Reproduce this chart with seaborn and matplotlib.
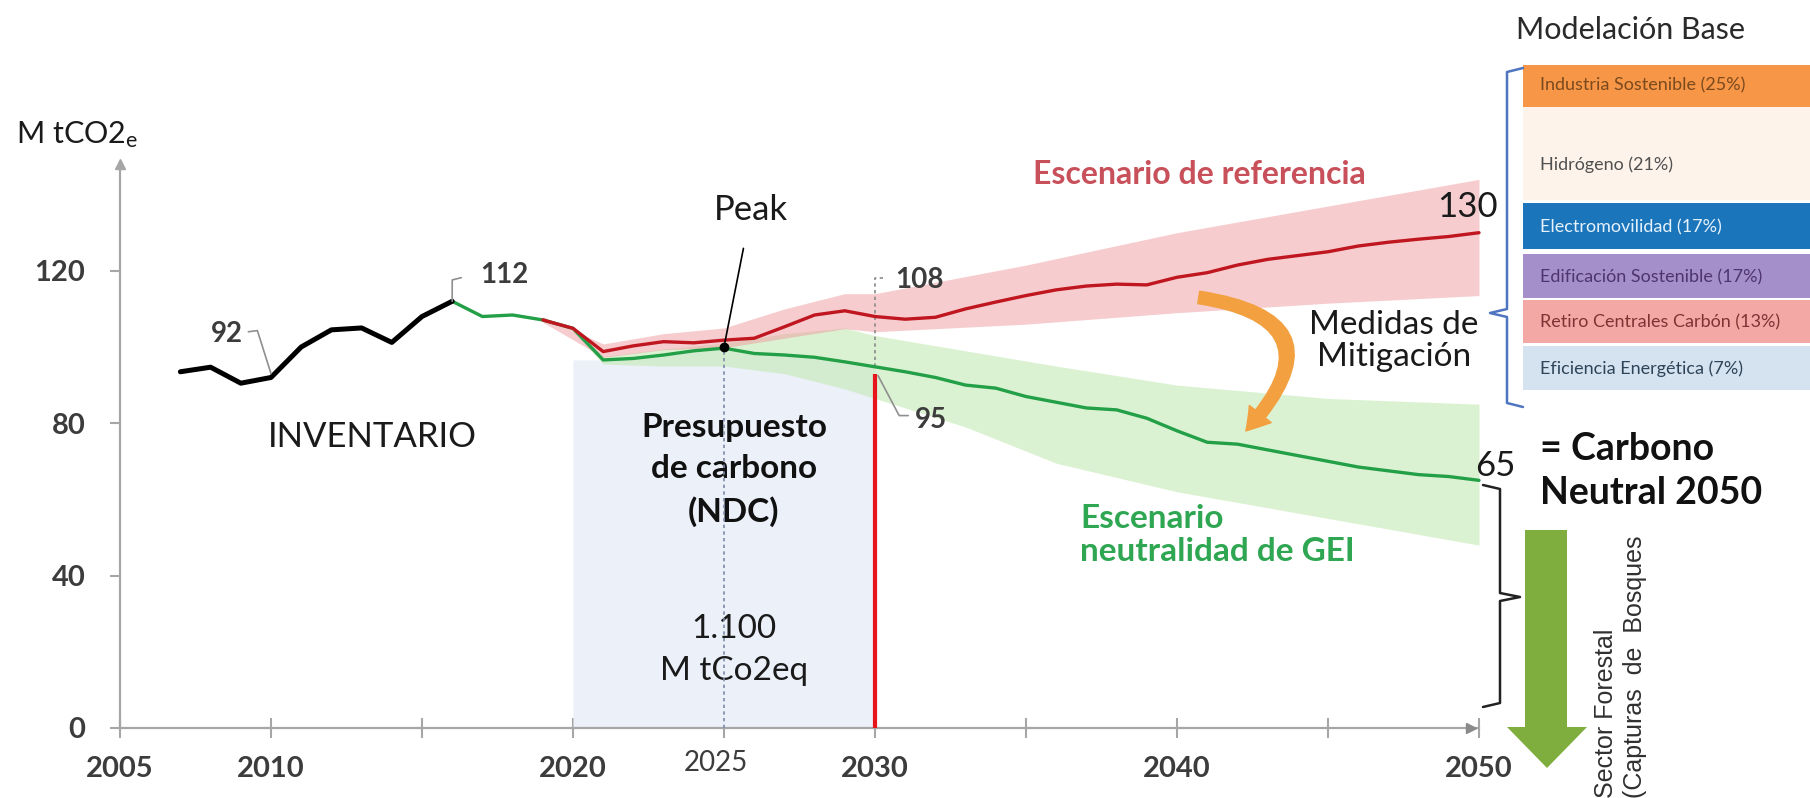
import numpy as np
import pandas as pd
import matplotlib
matplotlib.use("Agg")
import matplotlib.pyplot as plt
import seaborn as sns
from matplotlib.patches import Rectangle, Polygon, FancyArrowPatch

# ---------------- data ----------------
inv_years = [2007, 2008, 2009, 2010, 2011, 2012, 2013, 2014, 2015, 2016]
inv_values = [93.5, 94.7, 90.5, 92.0, 100.0, 104.5, 105.0, 101.2, 108.0, 112.0]

neu_years = list(range(2016, 2051))
neu_values = [112.0, 108.0, 108.4, 107.1, 104.9, 96.6, 97.0, 97.9, 99.0, 99.7,
              98.3, 97.9, 97.3, 96.1, 94.8, 93.5, 92.0, 90.0, 89.2, 87.0,
              85.5, 84.0, 83.5, 81.3, 78.0, 75.0, 74.5, 73.0, 71.5, 70.0,
              68.5, 67.5, 66.5, 66.0, 65.0]

ref_years = list(range(2019, 2051))
ref_values = [107.1, 104.9, 98.8, 100.3, 101.4, 101.1, 101.8, 102.3, 105.3, 108.4,
              109.5, 108.0, 107.3, 107.8, 110.0, 111.8, 113.5, 115.0, 116.0, 116.5,
              116.3, 118.3, 119.5, 121.5, 123.0, 124.0, 125.0, 126.5, 127.5, 128.3,
              129.0, 130.0]

ref_band_years = [2019, 2021, 2023, 2025, 2027, 2029, 2030, 2035, 2040, 2045, 2050]
ref_low = [106.5, 97.3, 99.3, 99.8, 102.3, 104.8, 104.0, 106.0, 109.0, 111.5, 113.5]
ref_high = [108.0, 100.8, 103.5, 105.0, 110.0, 114.0, 114.0, 121.5, 130.0, 137.0, 144.0]

neu_band_years = [2020, 2021, 2023, 2025, 2027, 2029, 2030, 2033, 2036, 2040, 2045, 2050]
neu_low = [104.0, 95.5, 95.0, 95.0, 93.0, 89.0, 86.5, 79.0, 69.5, 62.0, 55.0, 48.0]
neu_high = [105.0, 97.5, 99.5, 101.0, 103.5, 105.0, 103.0, 99.0, 95.0, 90.0, 86.5, 85.0]

peak_year, peak_value = 2025, 100.0
budget_start, budget_end = 2020, 2030

x_ticks = [2005, 2010, 2015, 2020, 2025, 2030, 2035, 2040, 2045, 2050]
x_tick_labels = ["2005", "2010", "", "2020", "", "2030", "", "2040", "", "2050"]
y_ticks = [0, 40, 80, 120]
y_tick_labels = ["0", "40", "80", "120"]

medidas = ["Industria Sostenible (25%)", "Hidrógeno (21%)", "Electromovilidad (17%)",
           "Edificación Sostenible (17%)", "Retiro Centrales Carbón (13%)",
           "Eficiencia Energética (7%)"]

# ---------------- style ----------------
sns.set_theme(style="white")
plt.rcParams["font.family"] = ["Lato", "DejaVu Sans"]
plt.rcParams["mathtext.fontset"] = "custom"
plt.rcParams["mathtext.rm"] = "Lato"
plt.rcParams["mathtext.it"] = "Lato:italic"

W, H = 1810, 798
PX_YEAR, PX_VAL = 30.2, 3.81
X0_PX, Y0_PX = 120, 728


def D(px, py):
    return (2005 + (px - X0_PX) / PX_YEAR, (Y0_PX - py) / PX_VAL)


def F(px, py):
    return (px / W, 1 - py / H)


fig = plt.figure(figsize=(W / 100, H / 100), dpi=100)
fig.patch.set_facecolor("white")
ax = fig.add_axes([0, 0, 1, 1])
ax.set_xlim(D(0, 0)[0], D(W, 0)[0])
ax.set_ylim(D(0, H)[1], D(0, 0)[1])
ax.set_facecolor("white")

RED = "#c0161f"
GREEN = "#23a047"
AXC = "#a6a6a6"
LAB = "#3c3c3c"

# budget region (area under neutral line 2020-2030)
neu_s = pd.Series(neu_values, index=neu_years)
bx = np.arange(budget_start, budget_end + 1)
btop = np.where(bx < budget_start + 1, neu_s[budget_start + 1], neu_s.reindex(bx).values)
ax.fill_between(bx, 0, btop, color="#ebf0f9", zorder=1, linewidth=0)

# uncertainty bands
ax.fill_between(neu_band_years, neu_low, neu_high, color="#c4eab4", alpha=0.6,
                zorder=2, linewidth=0)
ax.fill_between(ref_band_years, ref_low, ref_high, color="#ef9aa0", alpha=0.5,
                zorder=3, linewidth=0)

# dotted guides
ax.plot([peak_year, peak_year], [0, peak_value], ls=(0, (2, 2)), color="#7d8aa8",
        lw=1.2, zorder=4)
y2030_neu = neu_values[neu_years.index(2030)]
ax.plot([2030.25, 2030, 2030], [118, 118, y2030_neu], ls=(0, (2, 2)), color="#8a8a8a",
        lw=1.2, zorder=4)

# lines via seaborn
sns.lineplot(x=neu_years, y=neu_values, ax=ax, color=GREEN, linewidth=2.4, zorder=5)
sns.lineplot(x=ref_years, y=ref_values, ax=ax, color=RED, linewidth=2.4, zorder=6)
sns.lineplot(x=inv_years, y=inv_values, ax=ax, color="black", linewidth=3.6, zorder=7)

# 2030 NDC red line
ax.plot([2030, 2030], [0, y2030_neu - 1.8], color="#e8141c", lw=3.0, zorder=6,
        solid_capstyle="butt")

# peak marker
ax.plot([peak_year], [peak_value], marker="o", ms=6, color="black", zorder=9)
ax.annotate("Peak", xy=(peak_year, peak_value), xytext=D(751, 210), ha="center",
            va="center", fontsize=25, color="#1a1a1a",
            arrowprops=dict(arrowstyle="-", color="black", lw=1.2, shrinkA=14, shrinkB=0),
            zorder=9)

# axes
for s in ["top", "right"]:
    ax.spines[s].set_visible(False)
ax.spines["left"].set_position(("data", 2005))
ax.spines["left"].set_bounds(0, 148)
ax.spines["bottom"].set_position(("data", 0))
ax.spines["bottom"].set_bounds(2005, 2050)
for s in ["left", "bottom"]:
    ax.spines[s].set_color(AXC)
    ax.spines[s].set_linewidth(1.6)
ax.plot([2005], [148], marker="^", ms=7, color=AXC, clip_on=False, zorder=3)
ax.plot([2049.75], [0], marker=">", ms=7, color="#8a8a8a", clip_on=False, zorder=3)

ax.set_xticks(x_ticks)
ax.set_xticklabels(x_tick_labels)
ax.set_yticks(y_ticks)
ax.set_yticklabels(y_tick_labels)
ax.tick_params(axis="x", direction="inout", length=14, width=1.5, color=AXC, pad=13,
               labelsize=21, labelcolor=LAB, bottom=True)
ax.tick_params(axis="y", direction="out", length=7, width=1.5, color=AXC, pad=18,
               labelsize=21, labelcolor=LAB, left=True)
for lbl in ax.get_xticklabels() + ax.get_yticklabels():
    lbl.set_fontweight("bold")
ax.set_xlabel("")
ax.set_ylabel("")
ax.text(*D(716, 763), "2025", ha="center", va="center", fontsize=20, color=LAB)

# y unit
ax.text(*D(16, 135), "M tCO2$_{\\mathregular{e}}$", ha="left", va="center",
        fontsize=22, color="#1a1a1a")

# texts
ax.text(*D(372, 437), "INVENTARIO", ha="center", va="center", fontsize=25,
        color="#1a1a1a")
ax.text(*D(734, 470), "Presupuesto\nde carbono\n(NDC)", ha="center", va="center",
        fontsize=24, fontweight="bold", color="#111111", linespacing=1.5)
ax.text(*D(734, 650), "1.100\nM tCo2eq", ha="center", va="center", fontsize=24,
        color="#1a1a1a", linespacing=1.5)
ax.text(*D(1199, 175), "Escenario de referencia", ha="center", va="center",
        fontsize=23, fontweight="bold", color="#c8505a")
ax.text(*D(1080, 535), "Escenario\nneutralidad de GEI", ha="left", va="center",
        fontsize=24, fontweight="bold", color="#2fa652", linespacing=1.2)
ax.text(*D(1394, 341), "Medidas de\nMitigación", ha="center", va="center",
        fontsize=24, color="#1a1a1a", linespacing=1.05)
ax.text(*D(1467, 207), "130", ha="center", va="center", fontsize=25, color="#1a1a1a")
ax.text(*D(1495, 466), "65", ha="center", va="center", fontsize=25, color="#1a1a1a")
ax.text(*D(1540, 471), "= Carbono\nNeutral 2050", ha="left", va="center",
        fontsize=27, fontweight="bold", color="#111111", linespacing=1.35)

# value labels with leaders
lead = dict(color="#8f8f8f", lw=1.2, zorder=8)
ax.text(*D(480, 275), "112", ha="left", va="center", fontsize=20,
        fontweight="bold", color=LAB)
ax.plot([2016, 2016, 2016.3], [112, 117.6, 118.2], **lead)
ax.text(*D(895, 280), "108", ha="left", va="center", fontsize=20,
        fontweight="bold", color=LAB)
ax.text(*D(227, 334), "92", ha="center", va="center", fontsize=20,
        fontweight="bold", color=LAB)
ax.plot([2009.25, 2009.55, 2010], [104.0, 104.3, 93.0], **lead)
ax.text(*D(931, 420), "95", ha="center", va="center", fontsize=20,
        fontweight="bold", color=LAB)
ax.plot([2030.1, 2030.8, 2031.1], [92.5, 82.0, 82.0], **lead)

# orange curved arrow (mitigation)
arr = FancyArrowPatch(D(1196, 297), D(1244, 433), connectionstyle="arc3,rad=-0.95",
                      arrowstyle="simple,head_width=20,head_length=16,tail_width=9",
                      color="#f2a040", zorder=8, mutation_scale=1)
ax.add_patch(arr)

# black bracket at 65
bpts = [D(1483, 485), D(1500, 489), D(1500, 593), D(1520, 597), D(1500, 601),
        D(1500, 703), D(1483, 707)]
ax.plot([p[0] for p in bpts], [p[1] for p in bpts], color="#222222", lw=1.8,
        clip_on=False, zorder=8)

# green arrow (forest sector)
garrow = Polygon([D(1525, 530), D(1567, 530), D(1567, 727), D(1587, 727),
                  D(1547, 768), D(1507, 727), D(1525, 727)], closed=True,
                 facecolor="#7fae3e", edgecolor="none", zorder=8, clip_on=False)
ax.add_patch(garrow)
ax.text(*D(1613, 798), "Sector Forestal", rotation=90, rotation_mode="anchor",
        ha="left", va="baseline", fontsize=18, color="#303030",
        family=["Liberation Sans", "DejaVu Sans"])
ax.text(*D(1642, 798), "(Capturas  de  Bosques", rotation=90, rotation_mode="anchor",
        ha="left", va="baseline", fontsize=18, color="#303030",
        family=["Liberation Sans", "DejaVu Sans"])

# ---------------- right panel: Modelación Base ----------------
fig.text(*F(1630, 30), "Modelación Base", ha="center", va="center", fontsize=22,
         color="#2a2a2a")
box_rows = [  # (top_px, bottom_px, text_y_px)
    (65, 107, 85), (107, 200, 165), (203, 249, 227), (254, 298, 277),
    (300, 343, 322), (346, 390, 369)]
box_colors = ["#f79646", "#fdf3ea", "#1b75bb", "#a58fca", "#f4a8a6", "#d5e3f0"]
text_colors = ["#7b4a1e", "#505050", "#e6f2fb", "#4e3570", "#7e3434", "#2d4459"]
for name, (t, b, ty), bc, tc in zip(medidas, box_rows, box_colors, text_colors):
    x0, y0 = F(1523, b)
    rect = Rectangle((x0, y0), (W - 1523) / W, (b - t) / H, transform=fig.transFigure,
                     facecolor=bc, edgecolor="none", zorder=1)
    fig.add_artist(rect)
    fig.text(*F(1540, ty), name, ha="left", va="center", fontsize=13, color=tc)

# blue bracket
bb = [F(1523, 68), F(1507, 72), F(1507, 309), F(1490, 313), F(1507, 317),
      F(1507, 403), F(1523, 407)]
fig.add_artist(plt.Line2D([p[0] for p in bb], [p[1] for p in bb],
                          transform=fig.transFigure, color="#4f74c0", lw=1.8))

fig.savefig("out.png", dpi=100, facecolor="white")
